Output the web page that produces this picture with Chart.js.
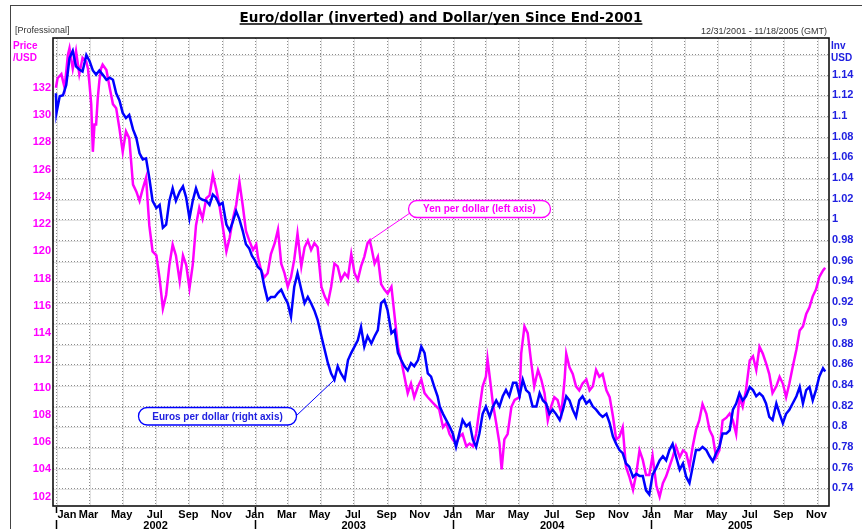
<!DOCTYPE html>
<html>
<head>
<meta charset="utf-8">
<script src="https://cdn.jsdelivr.net/npm/chart.js@4.4.0/dist/chart.umd.min.js"></script>
<style>
  html, body { margin: 0; padding: 0; background: #fff; }
  canvas { display: block; }
</style>
</head>
<body>
<canvas id="chart" width="862" height="529"></canvas>
<script>
// ---------- Data ----------
// day 0 = 2001-12-31, day 1 = 2002-01-01
const eurDays = [
  0, 1, 7, 13, 19, 25, 31, 37, 43, 49,
  56, 62, 68, 74, 80, 86, 93, 99, 105, 111,
  117, 123, 129, 135, 142, 148, 154, 160, 166, 172,
  178, 185, 191, 197, 203, 209, 215, 221, 228, 234,
  240, 246, 252, 258, 264, 270, 277, 283, 289, 295,
  301, 307, 314, 320, 326, 332, 338, 344, 350, 356,
  361, 366, 372, 378, 384, 390, 396, 403, 409, 415,
  421, 427, 433, 439, 445, 452, 458, 464, 470, 476,
  482, 489, 495, 501, 507, 513, 519, 525, 532, 538,
  544, 550, 556, 562, 568, 574, 581, 587, 593, 599,
  605, 611, 618, 624, 630, 636, 642, 648, 654, 660,
  667, 673, 679, 685, 691, 697, 703, 707, 713, 719,
  725, 731, 737, 743, 749, 756, 762, 768, 774, 780,
  786, 792, 799, 805, 811, 817, 823, 829, 835, 842,
  848, 854, 860, 866, 872, 878, 885, 891, 897, 903,
  909, 915, 921, 928, 934, 940, 946, 952, 958, 964,
  970, 977, 983, 989, 995, 1001, 1007, 1014, 1020, 1026,
  1032, 1038, 1044, 1050, 1056, 1063, 1069, 1075, 1081, 1087,
  1093, 1099, 1106, 1112, 1118, 1124, 1130, 1136, 1142, 1149,
  1155, 1161, 1167, 1173, 1179, 1185, 1191, 1198, 1204, 1210,
  1216, 1222, 1228, 1235, 1241, 1247, 1253, 1259, 1265, 1271,
  1278, 1284, 1290, 1296, 1302, 1308, 1314, 1320, 1327, 1333,
  1339, 1345, 1351, 1357, 1364, 1370, 1376, 1382, 1388, 1394,
  1400, 1406, 1413, 1417
];
const eurValues = [
  1.122, 1.103, 1.119, 1.120, 1.130, 1.156, 1.163, 1.148, 1.145, 1.143,
  1.159, 1.153, 1.144, 1.140, 1.144, 1.140, 1.135, 1.137, 1.135, 1.122,
  1.115, 1.103, 1.098, 1.101, 1.087, 1.079, 1.064, 1.058, 1.059, 1.040,
  1.018, 1.011, 1.014, 0.992, 0.995, 1.018, 1.030, 1.018, 1.027, 1.032,
  1.021, 1.001, 1.018, 1.030, 1.021, 1.019, 1.018, 1.014, 1.024, 1.021,
  1.014, 1.016, 0.995, 0.989, 0.998, 1.008, 1.000, 0.989, 0.976, 0.972,
  0.965, 0.961, 0.954, 0.951, 0.935, 0.922, 0.925, 0.925, 0.929, 0.932,
  0.925, 0.919, 0.906, 0.935, 0.948, 0.932, 0.919, 0.925, 0.919, 0.912,
  0.903, 0.887, 0.874, 0.861, 0.851, 0.845, 0.858, 0.851, 0.845, 0.864,
  0.871, 0.877, 0.883, 0.896, 0.877, 0.887, 0.880, 0.887, 0.893, 0.919,
  0.922, 0.912, 0.890, 0.893, 0.871, 0.864, 0.858, 0.854, 0.861, 0.858,
  0.864, 0.877, 0.871, 0.851, 0.848, 0.838, 0.829, 0.819, 0.812, 0.806,
  0.800, 0.793, 0.780, 0.793, 0.806, 0.800, 0.803, 0.787, 0.780, 0.793,
  0.812, 0.819, 0.809, 0.819, 0.825, 0.819, 0.829, 0.835, 0.829, 0.842,
  0.842, 0.829, 0.845, 0.835, 0.832, 0.819, 0.819, 0.832, 0.825, 0.822,
  0.812, 0.816, 0.812, 0.806, 0.816, 0.829, 0.825, 0.816, 0.809, 0.825,
  0.829, 0.822, 0.825, 0.819, 0.816, 0.812, 0.809, 0.812, 0.803, 0.790,
  0.783, 0.777, 0.774, 0.764, 0.761, 0.751, 0.754, 0.752, 0.752, 0.738,
  0.734, 0.753, 0.760, 0.767, 0.771, 0.767, 0.777, 0.783, 0.771, 0.758,
  0.764, 0.751, 0.745, 0.761, 0.777, 0.777, 0.780, 0.777, 0.771, 0.766,
  0.774, 0.780, 0.793, 0.793, 0.796, 0.816, 0.822, 0.832, 0.825, 0.829,
  0.838, 0.835, 0.829, 0.832, 0.829, 0.822, 0.809, 0.806, 0.822, 0.812,
  0.803, 0.812, 0.816, 0.822, 0.829, 0.838, 0.822, 0.835, 0.838, 0.825,
  0.835, 0.848, 0.856, 0.853
];

const yenDays = [
  0, 3, 10, 16, 22, 25, 31, 37, 43, 49,
  56, 59, 62, 65, 68, 71, 74, 77, 80, 83,
  86, 93, 99, 105, 111, 117, 123, 129, 135, 142,
  148, 154, 160, 166, 172, 178, 185, 191, 197, 203,
  209, 215, 221, 228, 234, 240, 246, 252, 258, 264,
  270, 277, 283, 289, 295, 301, 307, 314, 320, 326,
  332, 338, 344, 350, 356, 363, 369, 372, 378, 384,
  390, 396, 403, 409, 415, 421, 427, 433, 439, 445,
  452, 458, 464, 470, 476, 482, 489, 495, 501, 507,
  513, 519, 525, 532, 538, 544, 550, 556, 562, 568,
  574, 578, 581, 587, 593, 599, 605, 611, 618, 624,
  630, 636, 642, 648, 654, 660, 667, 673, 679, 685,
  694, 706, 713, 719, 725, 731, 737, 743, 749, 756,
  762, 768, 774, 780, 786, 792, 795, 799, 805, 811,
  817, 821, 826, 832, 839, 845, 854, 857, 863, 869,
  875, 881, 888, 894, 900, 906, 912, 918, 924, 931,
  937, 940, 946, 952, 958, 964, 970, 977, 983, 989,
  995, 1001, 1007, 1014, 1020, 1026, 1032, 1038, 1044, 1050,
  1056, 1063, 1069, 1075, 1081, 1087, 1093, 1099, 1106, 1112,
  1118, 1124, 1130, 1136, 1142, 1149, 1155, 1161, 1167, 1173,
  1179, 1185, 1191, 1198, 1204, 1210, 1216, 1222, 1228, 1235,
  1241, 1247, 1253, 1259, 1265, 1271, 1278, 1284, 1290, 1296,
  1302, 1308, 1314, 1320, 1327, 1333, 1339, 1345, 1351, 1357,
  1364, 1370, 1376, 1382, 1388, 1394, 1400, 1406, 1413, 1417
];
const yenValues = [
  132.0, 132.7, 133.0, 132.0, 134.4, 134.9, 133.4, 134.7, 133.0, 134.2,
  133.9, 133.4, 132.2, 130.8, 127.3, 129.3, 129.3, 131.2, 132.5, 133.4,
  133.7, 133.3, 132.0, 130.8, 130.5, 129.0, 127.3, 128.8, 128.3, 124.9,
  124.4, 123.7, 124.6, 125.4, 121.9, 120.0, 119.7, 118.0, 115.8, 116.8,
  119.0, 120.5, 119.7, 117.8, 119.7, 119.0, 117.3, 119.0, 121.9, 123.2,
  122.4, 123.9, 124.1, 125.6, 124.6, 123.4, 121.9, 120.0, 121.0, 122.4,
  123.4, 125.1, 123.4, 121.5, 120.8, 120.1, 120.5, 119.6, 118.6, 118.1,
  118.4, 119.8, 120.6, 121.6, 119.1, 118.4, 117.4, 118.1, 119.4, 121.3,
  118.9, 120.3, 120.8, 120.1, 120.6, 120.3, 117.4, 116.7, 116.2, 117.4,
  119.1, 118.9, 117.9, 118.4, 118.1, 119.8, 118.4, 117.9, 118.9, 119.6,
  120.6, 120.8, 120.3, 119.1, 119.6, 117.6, 117.2, 116.9, 117.4, 115.2,
  113.0, 112.0, 110.8, 109.6, 110.3, 109.3, 110.1, 110.6, 109.6, 109.3,
  108.9, 108.4, 107.1, 107.4, 106.6, 106.2, 105.9, 106.4, 106.6, 105.7,
  105.9, 105.7, 106.6, 108.4, 110.1, 110.8, 112.1, 110.8, 108.8, 107.4,
  105.9, 104.0, 106.2, 106.6, 108.6, 109.1, 109.3, 112.5, 114.5, 114.0,
  112.0, 110.1, 111.3, 110.6, 109.6, 107.6, 108.6, 109.3, 109.1, 108.1,
  110.6, 112.5, 111.5, 111.0, 110.1, 109.8, 110.3, 110.6, 109.8, 110.1,
  111.3, 110.8, 111.0, 109.8, 109.3, 107.9, 106.2, 106.4, 107.1, 104.2,
  103.5, 102.5, 103.7, 105.4, 104.7, 103.6, 103.6, 105.0, 102.8, 102.0,
  103.0, 103.5, 104.2, 104.9, 105.7, 104.9, 105.4, 105.2, 104.2, 105.7,
  106.9, 107.6, 108.8, 108.1, 106.9, 106.4, 104.9, 105.4, 107.6, 107.8,
  108.1, 107.6, 106.6, 109.3, 108.6, 109.8, 112.0, 112.3, 111.3, 113.0,
  112.5, 111.8, 111.0, 109.6, 110.1, 110.8, 110.3, 109.3, 110.3, 111.5,
  112.8, 114.2, 114.5, 115.4, 115.9, 116.7, 117.2, 118.1, 118.6, 118.8
];

const yenTicks = [102, 104, 106, 108, 110, 112, 114, 116, 118, 120, 122, 124, 126, 128, 130, 132];
const eurTicks = [0.74, 0.76, 0.78, 0.8, 0.82, 0.84, 0.86, 0.88, 0.9, 0.92, 0.94, 0.96, 0.98,
  1, 1.02, 1.04, 1.06, 1.08, 1.1, 1.12, 1.14, 1.16];
const monthNames = ["Jan", "Mar", "May", "Jul", "Sep", "Nov"];
const years = [2002, 2003, 2004, 2005];

const TITLE = "Euro/dollar (inverted) and Dollar/yen Since End-2001";
const YEN_LABEL = "Yen per dollar (left axis)";
const EUR_LABEL = "Euros per dollar (right axis)";

const YEN_COLOR = "#ff00ff";
const EUR_COLOR = "#0000ff";
const EUR_TEXT = "#2020e0";

// ---------- Helpers ----------
function dayOf(y, m) {
  return (Date.UTC(y, m, 1) - Date.UTC(2001, 11, 31)) / 86400000;
}

const monthTicks = [];
years.forEach((y) => {
  monthNames.forEach((name, i) => {
    monthTicks.push({ day: dayOf(y, i * 2), name, year: y, jan: i === 0 });
  });
});

function hline(ctx, x0, x1, y) {
  ctx.beginPath();
  ctx.moveTo(x0, y);
  ctx.lineTo(x1, y);
  ctx.stroke();
}
function vline(ctx, x, y0, y1) {
  ctx.beginPath();
  ctx.moveTo(x, y0);
  ctx.lineTo(x, y1);
  ctx.stroke();
}

function labelBox(ctx, text, x, y, w, h, color, textColor, toX, toY, fromX, fromY) {
  ctx.save();
  ctx.strokeStyle = color;
  ctx.lineWidth = 1;
  ctx.beginPath();
  ctx.moveTo(fromX, fromY);
  ctx.lineTo(toX, toY);
  ctx.stroke();
  ctx.beginPath();
  ctx.roundRect(x, y, w, h, h / 2);
  ctx.fillStyle = "#fff";
  ctx.fill();
  ctx.lineWidth = 1.3;
  ctx.stroke();
  ctx.fillStyle = textColor;
  ctx.font = 'bold 10px "Liberation Sans"';
  ctx.textAlign = "center";
  ctx.textBaseline = "middle";
  ctx.fillText(text, x + w / 2, y + h / 2 + 0.5);
  ctx.restore();
}

// ---------- Decorations ----------
const decor = {
  id: "decor",
  beforeDatasetsDraw(chart) {
    const { ctx, chartArea: a, scales } = chart;
    ctx.save();
    ctx.lineWidth = 1;
    // light solid grid under dotted grid
    ctx.strokeStyle = "#e2e2e2";
    monthTicks.forEach((t) => {
      const x = Math.round(scales.x.getPixelForValue(t.day)) + 0.5;
      if (x > a.left && x < a.right) vline(ctx, x + 1, a.top, a.bottom);
    });
    eurTicks.forEach((v) => {
      const y = Math.round(scales.y1.getPixelForValue(v)) + 0.5;
      if (y > a.top && y < a.bottom) hline(ctx, a.left, a.right, y + 1);
    });
    ctx.strokeStyle = "#8c8c8c";
    ctx.setLineDash([1, 2]);
    monthTicks.forEach((t) => {
      const x = Math.round(scales.x.getPixelForValue(t.day)) + 0.5;
      if (x > a.left && x < a.right) vline(ctx, x, a.top, a.bottom);
    });
    eurTicks.forEach((v) => {
      const y = Math.round(scales.y1.getPixelForValue(v)) + 0.5;
      if (y > a.top && y < a.bottom) hline(ctx, a.left, a.right, y);
    });
    ctx.restore();
  },
  afterDatasetsDraw(chart) {
    const { ctx, chartArea: a, scales } = chart;
    ctx.save();

    // plot frame
    ctx.strokeStyle = "#111";
    ctx.lineWidth = 1.6;
    ctx.strokeRect(a.left, a.top, a.right - a.left, a.bottom - a.top);

    // outer frame
    ctx.strokeStyle = "#444";
    ctx.lineWidth = 1;
    hline(ctx, 10, 862, 5.5);
    vline(ctx, 10.5, 5, 529);

    // title
    let size = 18;
    ctx.font = `bold ${size}px "DejaVu Sans"`;
    while (ctx.measureText(TITLE).width > 416 && size > 8) {
      size -= 0.5;
      ctx.font = `bold ${size}px "DejaVu Sans"`;
    }
    const tw = ctx.measureText(TITLE).width;
    ctx.fillStyle = "#000";
    ctx.textAlign = "center";
    ctx.textBaseline = "alphabetic";
    ctx.fillText(TITLE, 441, 22);
    ctx.strokeStyle = "#000";
    ctx.lineWidth = 1.5;
    hline(ctx, 441 - tw / 2, 441 + tw / 2, 24);

    // small header texts
    ctx.font = '9px "Liberation Sans"';
    ctx.fillStyle = "#333";
    ctx.textAlign = "left";
    ctx.fillText("[Professional]", 15, 33);
    ctx.textAlign = "right";
    ctx.fillText("12/31/2001 - 11/18/2005 (GMT)", 827, 34);

    // axis titles
    ctx.font = 'bold 10px "Liberation Sans"';
    ctx.textAlign = "left";
    ctx.fillStyle = YEN_COLOR;
    ctx.fillText("Price", 13, 49);
    ctx.fillText("/USD", 13, 61);
    ctx.fillStyle = EUR_TEXT;
    ctx.fillText("Inv", 831, 49);
    ctx.fillText("USD", 831, 61);

    // month labels, year separators, year labels
    ctx.font = 'bold 11px "Liberation Sans"';
    ctx.fillStyle = "#000";
    ctx.strokeStyle = "#000";
    ctx.lineWidth = 1.5;
    monthTicks.forEach((t) => {
      const x = scales.x.getPixelForValue(t.day);
      if (x < a.left || x > a.right) return;
      const w = ctx.measureText(t.name).width;
      if (x - w / 2 < a.left) {
        ctx.textAlign = "left";
        ctx.fillText(t.name, x + 1, 518);
      } else {
        ctx.textAlign = "center";
        ctx.fillText(t.name, x, 518);
      }
      if (t.jan) {
        vline(ctx, Math.round(x) + 0.5, a.bottom + 1, a.bottom + 7);
        vline(ctx, Math.round(x) + 0.5, 520, 529);
      }
    });
    ctx.textAlign = "center";
    years.forEach((y) => {
      const x0 = Math.max(scales.x.getPixelForValue(dayOf(y, 0)), scales.x.getPixelForValue(eurDays[0]));
      const x1 = Math.min(scales.x.getPixelForValue(dayOf(y + 1, 0)), a.right);
      ctx.fillText(String(y), (x0 + x1) / 2, 529);
    });

    // series callouts
    const yx = scales.x.getPixelForValue(578), yy = scales.y.getPixelForValue(120.8);
    labelBox(ctx, YEN_LABEL, 408.5, 200.5, 142, 17, YEN_COLOR, YEN_COLOR, yx, yy, 410, 213);
    const ex = scales.x.getPixelForValue(513), ey = scales.y1.getPixelForValue(0.845);
    labelBox(ctx, EUR_LABEL, 138.5, 407.5, 158, 17.5, EUR_COLOR, EUR_TEXT, ex, ey, 296, 416);

    ctx.restore();
  },
};

// ---------- Chart ----------
const ctx = document.getElementById("chart").getContext("2d");
new Chart(ctx, {
  type: "line",
  data: {
    datasets: [
      {
        label: EUR_LABEL,
        data: eurDays.map((d, i) => ({ x: d, y: eurValues[i] })),
        yAxisID: "y1",
        borderColor: EUR_COLOR,
        borderWidth: 2.5,
        pointRadius: 0,
        tension: 0,
        fill: false,
      },
      {
        label: YEN_LABEL,
        data: yenDays.map((d, i) => ({ x: d, y: yenValues[i] })),
        yAxisID: "y",
        borderColor: YEN_COLOR,
        borderWidth: 2.5,
        pointRadius: 0,
        tension: 0,
        fill: false,
      },
    ],
  },
  options: {
    responsive: false,
    animation: false,
    devicePixelRatio: 1,
    layout: { padding: { top: 38, left: 0, right: 0, bottom: 0 } },
    plugins: { legend: { display: false }, tooltip: { enabled: false } },
    scales: {
      x: {
        type: "linear",
        min: -5.4,
        max: 1424,
        grid: { display: false, drawTicks: false },
        border: { display: false },
        ticks: { display: false },
        afterFit: (s) => { s.height = 23; },
      },
      y: {
        position: "left",
        min: 101.32,
        max: 135.65,
        afterBuildTicks: (s) => { s.ticks = yenTicks.map((v) => ({ value: v })); },
        grid: { display: false, drawTicks: false },
        border: { display: false },
        ticks: {
          color: YEN_COLOR,
          padding: 2,
          font: { family: "Liberation Sans", weight: "bold", size: 11 },
        },
        afterFit: (s) => { s.width = 53; },
      },
      y1: {
        position: "right",
        min: 0.7229,
        max: 1.1754,
        afterBuildTicks: (s) => { s.ticks = eurTicks.map((v) => ({ value: v })); },
        grid: { display: false, drawTicks: false },
        border: { display: false },
        ticks: {
          color: EUR_TEXT,
          padding: 3,
          font: { family: "Liberation Sans", weight: "bold", size: 11 },
          callback: (v) => (v > 1.15 ? "" : String(+v.toFixed(2))),
        },
        afterFit: (s) => { s.width = 33; },
      },
    },
  },
  plugins: [decor],
});
</script>
</body>
</html>
